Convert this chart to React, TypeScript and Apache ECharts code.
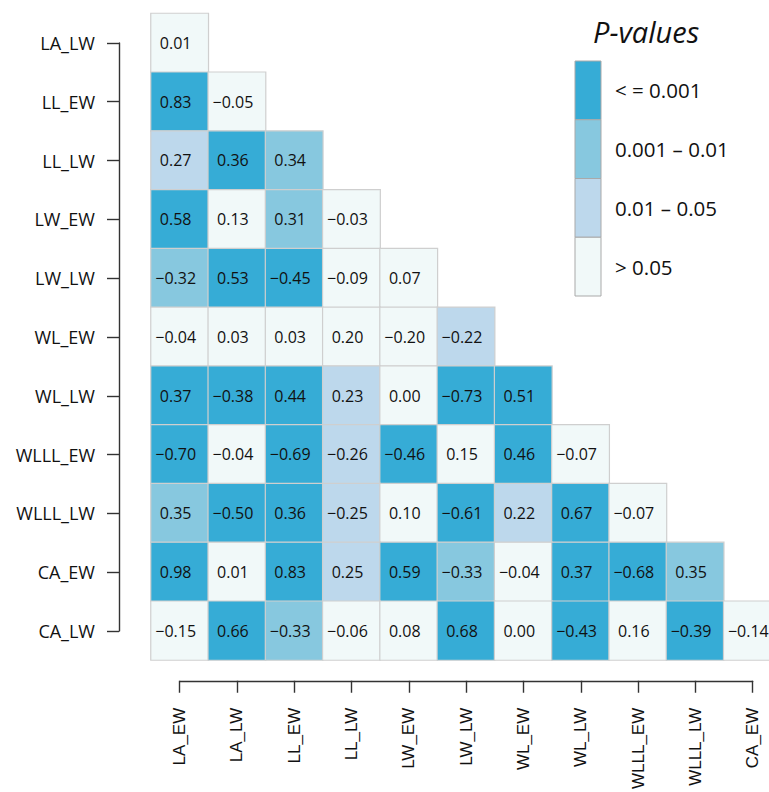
import React, { useEffect, useRef } from "react";
import * as echarts from "echarts";

const rowLabels = ["LA_LW", "LL_EW", "LL_LW", "LW_EW", "LW_LW", "WL_EW", "WL_LW", "WLLL_EW", "WLLL_LW", "CA_EW", "CA_LW"];
const colLabels = ["LA_EW", "LA_LW", "LL_EW", "LL_LW", "LW_EW", "LW_LW", "WL_EW", "WL_LW", "WLLL_EW", "WLLL_LW", "CA_EW"];

const corr: number[][] = [
  [0.01],
  [0.83, -0.05],
  [0.27, 0.36, 0.34],
  [0.58, 0.13, 0.31, -0.03],
  [-0.32, 0.53, -0.45, -0.09, 0.07],
  [-0.04, 0.03, 0.03, 0.2, -0.2, -0.22],
  [0.37, -0.38, 0.44, 0.23, 0.0, -0.73, 0.51],
  [-0.7, -0.04, -0.69, -0.26, -0.46, 0.15, 0.46, -0.07],
  [0.35, -0.5, 0.36, -0.25, 0.1, -0.61, 0.22, 0.67, -0.07],
  [0.98, 0.01, 0.83, 0.25, 0.59, -0.33, -0.04, 0.37, -0.68, 0.35],
  [-0.15, 0.66, -0.33, -0.06, 0.08, 0.68, 0.0, -0.43, 0.16, -0.39, -0.14],
];

// p-value class: 0 = <=0.001, 1 = 0.001-0.01, 2 = 0.01-0.05, 3 = >0.05
const pClass: number[][] = [
  [3],
  [0, 3],
  [2, 0, 1],
  [0, 3, 1, 3],
  [1, 0, 0, 3, 3],
  [3, 3, 3, 3, 3, 2],
  [0, 0, 0, 2, 3, 0, 0],
  [0, 3, 0, 2, 0, 3, 0, 3],
  [1, 0, 0, 2, 3, 0, 2, 0, 3],
  [0, 3, 0, 2, 0, 1, 3, 0, 0, 1],
  [3, 0, 1, 3, 3, 0, 3, 0, 3, 0, 3],
];

const pLabels = ["< = 0.001", "0.001 \u2013 0.01", "0.01 \u2013 0.05", "> 0.05"];
const pColors = ["#36acd6", "#87c8df", "#bdd8ec", "#f1f9f9"];
const legendTitle = "P-values";

const fmt = (v: number) => {
  const s = Math.abs(v).toFixed(2);
  return v < 0 ? "\u2212" + s : s;
};

export default function App() {
  const ref = useRef<HTMLDivElement>(null);
  useEffect(() => {
    if (!ref.current) return;
    const chart = echarts.init(ref.current, null, { renderer: "svg" });
    const data: any[] = [];
    corr.forEach((row, r) => {
      row.forEach((v, c) => {
        data.push([c, r, v, pClass[r][c]]);
      });
    });

    const lgX = 575;
    const lgY = 61;
    const lgH = 58.75;
    const graphics: any[] = [
      {
        type: "text",
        left: 593,
        top: 17,
        style: {
          text: legendTitle,
          fontSize: 29,
          fontStyle: "italic",
          fontFamily: "Open Sans",
          fill: "#111",
        },
      },
    ];
    pLabels.forEach((lab, i) => {
      graphics.push({
        type: "rect",
        shape: { x: lgX, y: lgY + i * lgH, width: 26, height: lgH },
        style: { fill: pColors[i], stroke: "#a9a9a9", lineWidth: 1 },
      });
      graphics.push({
        type: "text",
        x: 615,
        y: lgY + i * lgH + lgH / 2,
        style: {
          text: lab,
          fontSize: 20.5,
          fontFamily: "Open Sans",
          fill: "#111",
          verticalAlign: "middle",
        },
      });
    });

    const axisLineStyle = { color: "#333", width: 1.4 };

    chart.setOption({
      animation: false,
      grid: [
        { left: 151, top: 13.5, width: 630, height: 646.5 },
        { left: 119, top: 42.9, width: 20, height: 588.2 },
        { left: 179.65, top: 600, width: 573, height: 88 },
      ],
      xAxis: [
        { gridIndex: 0, type: "category", data: colLabels, show: false },
        { gridIndex: 1, type: "value", show: false },
        {
          gridIndex: 2,
          type: "category",
          data: colLabels,
          boundaryGap: false,
          position: "bottom",
          axisLine: { show: true, lineStyle: axisLineStyle },
          axisTick: { show: true, length: 12, interval: 0, lineStyle: axisLineStyle },
          axisLabel: {
            interval: 0,
            rotate: 90,
            margin: 27,
            fontSize: 17,
            fontFamily: "Liberation Sans",
            color: "#111",
          },
          splitLine: { show: false },
        },
      ],
      yAxis: [
        { gridIndex: 0, type: "category", data: rowLabels, inverse: true, show: false },
        {
          gridIndex: 1,
          type: "category",
          data: rowLabels,
          inverse: true,
          boundaryGap: false,
          position: "left",
          axisLine: { show: true, lineStyle: axisLineStyle },
          axisTick: { show: true, length: 12, interval: 0, lineStyle: axisLineStyle },
          axisLabel: {
            interval: 0,
            margin: 24,
            fontSize: 18,
            fontFamily: "Open Sans",
            color: "#111",
          },
          splitLine: { show: false },
        },
        { gridIndex: 2, type: "value", show: false },
      ],
      visualMap: {
        type: "piecewise",
        show: false,
        dimension: 3,
        seriesIndex: 0,
        pieces: pColors.map((color, i) => ({ value: i, color })),
      },
      series: [
        {
          type: "heatmap",
          xAxisIndex: 0,
          yAxisIndex: 0,
          data,
          itemStyle: { borderColor: "#cfcfcf", borderWidth: 1.2 },
          label: {
            show: true,
            formatter: (p: any) => fmt(p.value[2]),
            fontSize: 16,
            fontFamily: "Open Sans",
            color: "#111",
            offset: [-4, 0],
          },
          emphasis: { disabled: true },
        },
      ],
      graphic: graphics,
    });
    return () => chart.dispose();
  }, []);
  return (
    <div style={{ position: "absolute", left: 0, top: 0, width: 769, height: 792, overflow: "hidden", background: "#fff" }}>
      <div ref={ref} style={{ width: 800, height: 792 }} />
    </div>
  );
}
